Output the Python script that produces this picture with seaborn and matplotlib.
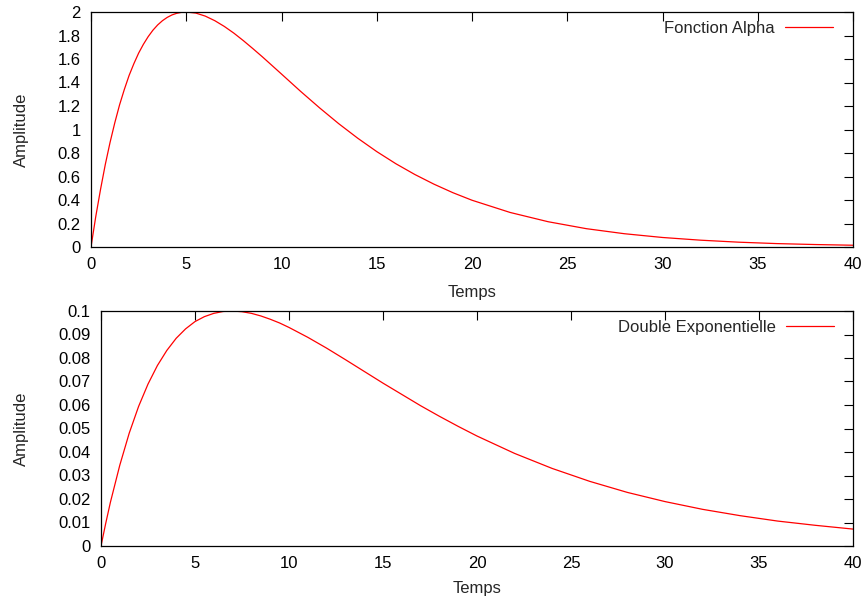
import numpy as np
import pandas as pd
import matplotlib
matplotlib.use("Agg")
import matplotlib.pyplot as plt
import seaborn as sns

# Top panel: Fonction Alpha
t_alpha = [0, 0.25, 0.5, 0.75, 1, 1.25, 1.5, 1.75, 2, 2.25, 2.5, 2.75, 3, 3.25, 3.5,
           3.75, 4, 4.25, 4.5, 4.75, 5, 5.5, 6, 6.5, 7, 7.5, 8, 8.5, 9, 9.5, 10, 11,
           12, 13, 14, 15, 16, 17, 18, 19, 20, 22, 24, 26, 28, 30, 32, 34, 36, 38, 40]
y_alpha = [0.0, 0.259, 0.49, 0.702, 0.89, 1.058, 1.21, 1.341, 1.46, 1.56, 1.65, 1.725,
           1.79, 1.845, 1.89, 1.926, 1.954, 1.975, 1.989, 1.997, 2.0, 1.991, 1.965,
           1.926, 1.877, 1.82, 1.756, 1.688, 1.618, 1.545, 1.472, 1.325, 1.184, 1.05,
           0.926, 0.812, 0.709, 0.617, 0.535, 0.462, 0.398, 0.294, 0.215, 0.156,
           0.113, 0.081, 0.058, 0.041, 0.029, 0.021, 0.015]

# Bottom panel: Double Exponentielle
t_dexp = [0, 0.25, 0.5, 1, 1.5, 2, 2.5, 3, 3.5, 4, 4.5, 5, 5.5, 6, 6.5, 7, 7.5, 8,
          8.5, 9, 9.5, 10, 11, 12, 13, 14, 15, 16, 17, 18, 19, 20, 22, 24, 26, 28,
          30, 32, 34, 36, 38, 40]
y_dexp = [0.0, 0.0096, 0.0186, 0.0344, 0.048, 0.0594, 0.0689, 0.0768, 0.0832,
          0.0884, 0.0924, 0.0955, 0.0976, 0.099, 0.0998, 0.1, 0.0997, 0.099, 0.0979,
          0.0965, 0.0949, 0.093, 0.0888, 0.0842, 0.0793, 0.0743, 0.0693, 0.0645,
          0.0597, 0.0552, 0.0509, 0.0468, 0.0394, 0.033, 0.0275, 0.0228, 0.0189,
          0.0156, 0.0129, 0.0106, 0.0088, 0.0072]

x_ticks = [0, 5, 10, 15, 20, 25, 30, 35, 40]
y_ticks_top = [0, 0.2, 0.4, 0.6, 0.8, 1, 1.2, 1.4, 1.6, 1.8, 2]
y_ticks_bot = [0, 0.01, 0.02, 0.03, 0.04, 0.05, 0.06, 0.07, 0.08, 0.09, 0.1]

sns.set_style("white")
plt.rcParams['font.family'] = ['Liberation Sans', 'DejaVu Sans']

W, H = 866, 598
FS = 12
fig = plt.figure(figsize=(W / 100, H / 100), dpi=100)

def box(l, t, r, b):
    return [l / W, 1 - b / H, (r - l) / W, (b - t) / H]

ax1 = fig.add_axes(box(91, 12, 853, 247))
ax2 = fig.add_axes(box(101, 311, 853, 546))

df1 = pd.DataFrame({"Temps": t_alpha, "Amplitude": y_alpha})
df2 = pd.DataFrame({"Temps": t_dexp, "Amplitude": y_dexp})

sns.lineplot(data=df1, x="Temps", y="Amplitude", ax=ax1, color="#ff0000",
             linewidth=0.9, label="Fonction Alpha")
sns.lineplot(data=df2, x="Temps", y="Amplitude", ax=ax2, color="#ff0000",
             linewidth=0.9, label="Double Exponentielle")

def fmt(v):
    return "%g" % v

for ax, yt, ymax, anchor in [(ax1, y_ticks_top, 2, (0.9738, 0.9617)),
                             (ax2, y_ticks_bot, 0.1, (0.975, 0.9617))]:
    ax.set_xlim(0, 40)
    ax.set_ylim(0, ymax)
    ax.set_xticks(x_ticks)
    ax.set_xticklabels([fmt(v) for v in x_ticks])
    ax.set_yticks(yt)
    ax.set_yticklabels([fmt(v) for v in yt])
    ax.tick_params(direction="in", length=6.5, width=0.8, top=True, right=True,
                   labelsize=FS, colors="black", pad=7.5)
    for s in ax.spines.values():
        s.set_visible(True)
        s.set_color("black")
        s.set_linewidth(0.9)
    ax.set_xlabel("Temps", fontsize=FS)
    ax.set_ylabel("Amplitude", fontsize=FS)
    ax.legend(loc="upper right", bbox_to_anchor=anchor, frameon=False,
              markerfirst=False, handlelength=2.9, fontsize=FS,
              borderaxespad=0.0, handletextpad=0.6, borderpad=0.0)

ax1.yaxis.set_label_coords(-62 / 762, 0.5)
ax2.yaxis.set_label_coords(-72 / 752, 0.5)
ax1.xaxis.set_label_coords(0.5, -38 / 235)
ax2.xaxis.set_label_coords(0.5, -35 / 235)

fig.savefig("out.png", dpi=100)
